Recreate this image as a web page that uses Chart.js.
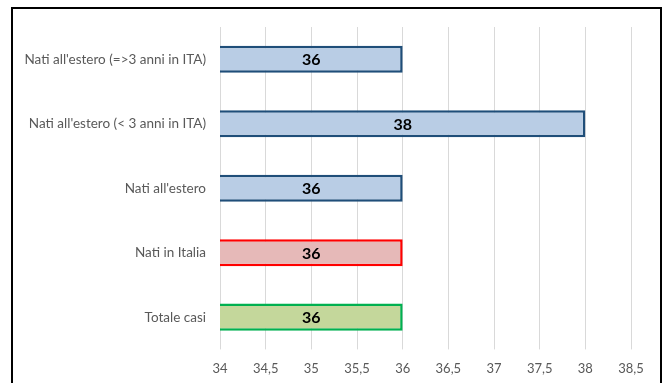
<!DOCTYPE html>
<html>
<head>
<meta charset="utf-8">
<script src="https://cdn.jsdelivr.net/npm/chart.js@4"></script>
<style>
  html, body { margin: 0; padding: 0; background: #fff; overflow: hidden; }
  #wrap { position: absolute; left: 0; top: 0; width: 668px; height: 395px; }
  #frame { position: absolute; left: 11px; top: 7px; width: 647px; height: 400px;
           border: 2px solid #000; pointer-events: none; }
</style>
</head>
<body>
<div id="wrap"><canvas id="chart" width="668" height="395"></canvas></div>
<div id="frame"></div>
<script>
const categories = [
  "Nati all'estero (=>3 anni in ITA)",
  "Nati all'estero (< 3 anni in ITA)",
  "Nati all'estero",
  "Nati in Italia",
  "Totale casi"
];
const values = [36, 38, 36, 36, 36];
const fillColors = ['#B9CDE5', '#B9CDE5', '#B9CDE5', '#E6B9B8', '#C4D79B'];
const borderColors = ['#1F4E79', '#1F4E79', '#1F4E79', '#FF0000', '#00B050'];
const axisMin = 34;
const axisMax = 38.5;
const axisStep = 0.5;

// draws the value in the middle of each bar
const barLabels = {
  id: 'barLabels',
  afterDraw(chart) {
    const ctx = chart.ctx;
    const meta = chart.getDatasetMeta(0);
    const x0 = chart.scales.x.getPixelForValue(axisMin);
    ctx.save();
    ctx.font = 'bold 16px Lato';
    ctx.fillStyle = '#000';
    ctx.textAlign = 'center';
    ctx.textBaseline = 'middle';
    meta.data.forEach((bar, i) => {
      ctx.fillText(String(values[i]), (bar.x + x0) / 2, bar.y + 1);
    });
    ctx.restore();
  }
};

new Chart(document.getElementById('chart'), {
  type: 'bar',
  data: {
    labels: categories,
    datasets: [{
      data: values,
      backgroundColor: fillColors,
      borderColor: borderColors,
      borderWidth: 2.5,
      borderSkipped: false,
      barPercentage: 0.42,
      categoryPercentage: 1
    }]
  },
  options: {
    indexAxis: 'y',
    responsive: false,
    animation: false,
    layout: { padding: { left: 0, right: 37, top: 27, bottom: 6 } },
    plugins: { legend: { display: false }, tooltip: { enabled: false } },
    scales: {
      x: {
        min: axisMin,
        max: axisMax,
        border: { display: false },
        grid: { color: '#D9D9D9', lineWidth: 1, tickLength: 0 },
        ticks: {
          stepSize: axisStep,
          padding: 12,
          color: '#595959',
          font: { family: 'Lato', size: 13 },
          callback: v => String(v).replace('.', ',')
        }
      },
      y: {
        border: { display: false },
        grid: { display: false, tickLength: 0 },
        afterFit: s => { s.width = 220; },
        ticks: {
          padding: 14,
          color: '#595959',
          font: { family: 'Lato', size: 13.5 }
        }
      }
    }
  },
  plugins: [barLabels]
});
</script>
</body>
</html>
